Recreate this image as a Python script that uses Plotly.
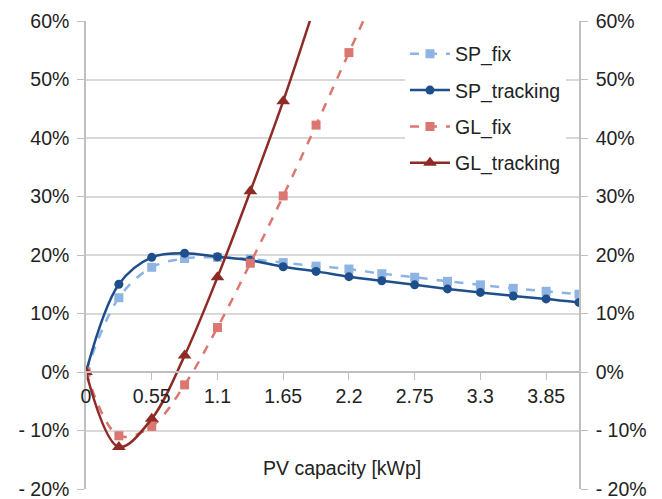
import plotly.graph_objects as go

pv_capacity = [0, 0.275, 0.55, 0.825, 1.1, 1.375, 1.65, 1.925, 2.2, 2.475,
               2.75, 3.025, 3.3, 3.575, 3.85, 4.125]

sp_fix = [0, 12.7, 17.9, 19.4, 19.6, 19.3, 18.7, 18.1, 17.6, 16.8,
          16.2, 15.5, 14.9, 14.3, 13.8, 13.3]
sp_tracking = [0, 15.0, 19.6, 20.3, 19.7, 19.1, 18.0, 17.2, 16.3, 15.6,
               14.9, 14.2, 13.6, 13.0, 12.5, 11.9]
gl_fix = [0, -10.9, -9.3, -2.2, 7.6, 18.6, 30.1, 42.2, 54.6, 67.0]
gl_tracking = [0, -12.8, -8.0, 2.8, 16.2, 30.9, 46.3, 63.3]

y_tickvals = [-20, -10, 0, 10, 20, 30, 40, 50, 60]
y_ticktext = ["- 20%", "- 10%", "0%", "10%", "20%", "30%", "40%", "50%", "60%"]
x_tickvals = [0, 0.55, 1.1, 1.65, 2.2, 2.75, 3.3, 3.85]
x_ticktext = ["0", "0.55", "1.1", "1.65", "2.2", "2.75", "3.3", "3.85"]

FONT = "Liberation Sans, Arial, sans-serif"
FS = 19.5
GRID = "#d9d9d9"
AXIS = "#bfbfbf"

fig = go.Figure()
fig.add_trace(go.Scatter(
    x=pv_capacity, y=sp_fix, name="SP_fix", legendgroup="a",
    mode="lines+markers", line=dict(color="#8db4e2", width=2.5, dash="dash", shape="spline", smoothing=1),
    marker=dict(symbol="square", size=9, color="#8db4e2")))
fig.add_trace(go.Scatter(
    x=pv_capacity, y=sp_tracking, name="SP_tracking", legendgroup="b",
    mode="lines+markers", line=dict(color="#1f4e8c", width=2.5, shape="spline", smoothing=1),
    marker=dict(symbol="circle", size=9, color="#1f4e8c")))
fig.add_trace(go.Scatter(
    x=pv_capacity[:len(gl_fix)], y=gl_fix, name="GL_fix", legendgroup="c",
    mode="lines+markers", line=dict(color="#dc7670", width=2.5, dash="dash", shape="spline", smoothing=1),
    marker=dict(symbol="square", size=9, color="#dc7670")))
fig.add_trace(go.Scatter(
    x=pv_capacity[:len(gl_tracking)], y=gl_tracking, name="GL_tracking", legendgroup="d",
    mode="lines+markers", line=dict(color="#8e2b26", width=2.5, shape="spline", smoothing=1),
    marker=dict(symbol="triangle-up", size=12, color="#8e2b26")))
# invisible trace to activate the right axis
fig.add_trace(go.Scatter(x=[None], y=[None], yaxis="y2", showlegend=False, hoverinfo="skip"))

fig.update_layout(
    width=654, height=491,
    margin=dict(l=78, r=83, t=13, b=10, autoexpand=False),
    paper_bgcolor="white", plot_bgcolor="white",
    font=dict(family=FONT, size=FS, color="#222222"),
    showlegend=True,
    legend=dict(x=0.647, y=0.971, xanchor="left", yanchor="top",
                bgcolor="white", font=dict(size=FS, color="#222222"),
                tracegroupgap=8, itemwidth=40),
    xaxis=dict(range=[0, 4.125], tickvals=x_tickvals, ticktext=x_ticktext,
               showgrid=False, zeroline=False, showline=True, linecolor=AXIS, linewidth=1.5,
               ticks="outside", ticklen=7, tickcolor=AXIS, anchor="free", position=0.25,
               tickfont=dict(size=FS), automargin=False),
    yaxis=dict(range=[-20, 60], tickvals=y_tickvals, ticktext=y_ticktext,
               showgrid=True, gridcolor=GRID, gridwidth=1.5, zeroline=False,
               showline=True, linecolor=AXIS, linewidth=1.5,
               ticks="outside", ticklen=7, tickcolor=AXIS, ticklabelstandoff=4,
               ticklabeloverflow="allow", automargin=False),
    yaxis2=dict(range=[-20, 60], tickvals=y_tickvals, ticktext=y_ticktext,
                overlaying="y", side="right", showgrid=False, zeroline=False,
                showline=True, linecolor=AXIS, linewidth=1.5,
                ticks="outside", ticklen=7, tickcolor=AXIS, ticklabelstandoff=4,
                ticklabeloverflow="allow", automargin=False),
    annotations=[dict(text="PV capacity [kWp]", xref="paper", yref="paper",
                      x=0.52, y=0.045, xanchor="center", yanchor="middle",
                      showarrow=False, font=dict(size=FS, color="#222222"))],
)

fig.write_html("out.html")
